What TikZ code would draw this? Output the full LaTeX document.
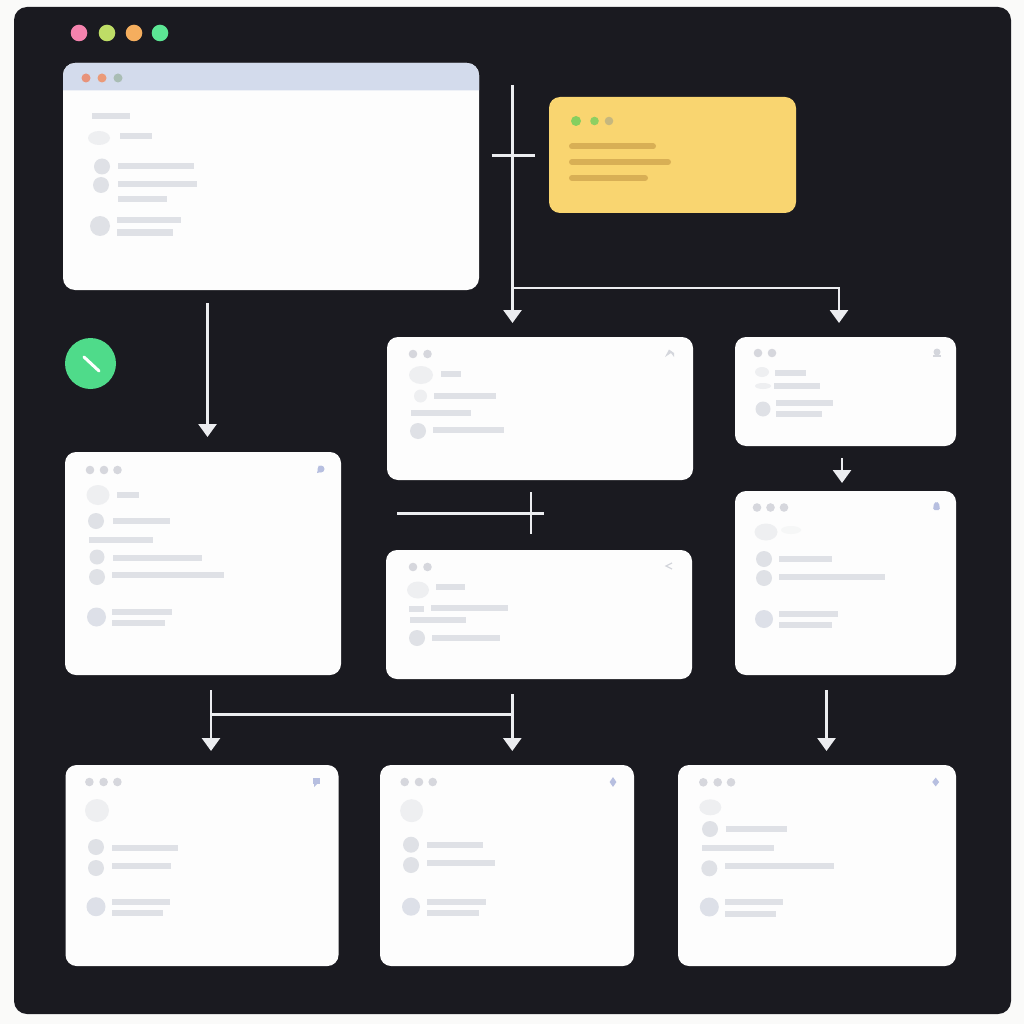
\documentclass[tikz,border=0pt]{standalone}
\usepackage{xcolor}
\usepackage{tikz}
\usetikzlibrary{positioning,calc,arrows.meta,shapes.geometric}
\definecolor{pagebg}{HTML}{FAFAF9}
\definecolor{panelbg}{HTML}{1A1A20}
\definecolor{cardbg}{HTML}{FDFDFD}
\definecolor{barcol}{HTML}{DFE1E6}
\definecolor{dotcol}{HTML}{D6D7DD}
\definecolor{pillcol}{HTML}{EEEFF1}
\definecolor{bigdot}{HTML}{DDE0E8}
\definecolor{iconblue}{HTML}{B7BFE0}
\definecolor{icongrey}{HTML}{D4D6DC}
\definecolor{linecol}{HTML}{ECEDF0}
\definecolor{notecol}{HTML}{F9D570}
\definecolor{notebar}{HTML}{D8AF55}
\tikzset{
  card/.style={draw=none, fill=cardbg, rounded corners=11pt, anchor=north west, inner sep=0pt, outer sep=0pt},
  link/.style={draw=linecol, line width=2.7pt},
  flow/.style={link, -{Triangle[width=18pt,length=13pt]}},
  notestripe/.style={notebar, line width=6pt, line cap=round},
}
\newcommand{\skbar}[3]{\draw[barcol, line width=6pt] (#1,#3) -- (#2,#3);}
\newcommand{\skdot}[3]{\fill[barcol] (#1,#2) circle (#3pt);}
\newcommand{\skpill}[4]{\fill[pillcol] (#1,#2) ellipse (#3pt and #4pt);}
\newcommand{\skmenu}[2]{\foreach \dx in {#1} {\fill[dotcol] (\dx,#2) circle (4.3pt);}}
\begin{document}
\begin{tikzpicture}[x=1pt, y=-1pt]
  \useasboundingbox (0,0) rectangle (1024,1024);
  \fill[pagebg] (0,0) rectangle (1024,1024);
  \node[card, fill=panelbg, rounded corners=13pt, minimum width=997pt, minimum height=1007pt] (panel) at (14,7) {};

  \fill[color={rgb,255:red,245;green,131;blue,174}] (79,33) circle (8.3pt);
  \fill[color={rgb,255:red,190;green,221;blue,102}] (107,33) circle (8.3pt);
  \fill[color={rgb,255:red,245;green,174;blue,94}] (134,33) circle (8.3pt);
  \fill[color={rgb,255:red,92;green,230;blue,148}] (160,33) circle (8.3pt);

  \node[card, rounded corners=12pt, minimum width=416pt, minimum height=227pt] (mainwin) at (63,63) {};
  \node[card, fill=notecol, minimum width=247pt, minimum height=116pt] (note) at (549,97) {};
  \node[card, minimum width=306pt, minimum height=143pt] (editcard) at (387,337) {};
  \node[card, minimum width=306pt, minimum height=129pt] (sharecard) at (386,550) {};
  \node[card, minimum width=221pt, minimum height=109pt] (alertcard) at (735,337) {};
  \node[card, minimum width=221pt, minimum height=184pt] (notifycard) at (735,491) {};
  \node[card, minimum width=276pt, minimum height=223pt] (listcard) at (65,452) {};
  \node[card, minimum width=273pt, minimum height=201pt] (leftcard) at (65.5,765) {};
  \node[card, minimum width=254pt, minimum height=201pt] (midcard) at (380,765) {};
  \node[card, minimum width=278pt, minimum height=201pt] (rightcard) at (678,765) {};

  % main window
  \fill[color={rgb,255:red,211;green,219;blue,236}] (63,90.5) [rounded corners=12pt] -- (63,63) -- (479,63) [sharp corners] -- (479,90.5) -- cycle;
  \fill[color={rgb,255:red,232;green,147;blue,122}] (86,78) circle (4.5pt);
  \fill[color={rgb,255:red,235;green,154;blue,120}] (102,78) circle (4.5pt);
  \fill[color={rgb,255:red,169;green,189;blue,180}] (118,78) circle (4.5pt);
  \skbar{92}{130}{116}
  \skpill{99}{138}{11}{7}
  \skbar{120}{152}{136.5}
  \skdot{102}{166.5}{8}
  \skbar{118}{194}{166.5}
  \skdot{101}{185}{8}
  \skbar{118}{197}{184.5}
  \skbar{118}{167}{199.5}
  \skdot{100}{226}{10}
  \skbar{117}{181}{220.5}
  \skbar{117}{173}{232.5}

  % note
  \fill[color={rgb,255:red,133;green,207;blue,95}] (576,121) circle (5pt);
  \fill[color={rgb,255:red,142;green,207;blue,98}] (594.5,121) circle (4.3pt);
  \fill[color={rgb,255:red,198;green,183;blue,126}] (609,121) circle (4.3pt);
  \draw[notestripe] (572,146.5) -- (653,146.5);
  \draw[notestripe] (572,162) -- (668,162);
  \draw[notestripe] (572,178) -- (645,178);

  % status badge
  \node[circle, fill={rgb,255:red,79;green,219;blue,138}, minimum size=51pt, inner sep=0pt] (badge) at (90.5,363.5) {};
  \draw[white, line width=3pt, line cap=round] (84,357) -- (99,371);

  % edit card
  \skmenu{413,427.5}{354}
  \fill[icongrey] (665,357) -- (669,349.5) -- (674,353) -- (674,357) -- (671,353) -- cycle;
  \skpill{421}{375}{12}{9}
  \skbar{441}{461}{374}
  \fill[color=pillcol] (420.5,396) circle (6.5pt);
  \skbar{434}{496}{395.5}
  \skbar{411}{471}{412.5}
  \skdot{418}{431}{8}
  \skbar{433}{504}{430}

  % share card
  \skmenu{413,427.5}{567}
  \draw[icongrey, line width=1.2pt] (672,563) -- (666,566) -- (672,569);
  \skpill{418}{590}{11}{8.5}
  \skbar{436}{465}{587}
  \skbar{409}{424}{608.5}
  \skbar{431}{508}{608}
  \skbar{410}{466}{619.5}
  \skdot{417}{638}{8}
  \skbar{432}{500}{638}

  % alert card
  \skmenu{758,772}{353}
  \fill[icongrey] (937,352) circle (3.5pt);
  \fill[icongrey] (933,355) rectangle (941,356.5);
  \skpill{762}{372}{7}{5}
  \skbar{775}{806}{372.5}
  \skpill{763}{386}{8}{3}
  \skbar{774}{820}{386}
  \skdot{763}{409}{7.5}
  \skbar{776}{833}{403}
  \skbar{776}{822}{413.5}

  % notify card
  \skmenu{757,770.5,784}{507.5}
  \fill[iconblue, rounded corners=1.5pt] (933,510) -- (934,503) -- (936.5,501.5) -- (939,503) -- (940,510) -- cycle;
  \skpill{766}{532}{11.5}{8.5}
  \fill[color=pagebg!70!pillcol] (791,530) ellipse (10pt and 4pt);
  \skdot{764}{559}{8}
  \skbar{779}{832}{558.5}
  \skdot{764}{578}{8}
  \skbar{779}{885}{576.5}
  \fill[bigdot] (764,619) circle (9pt);
  \skbar{779}{838}{614}
  \skbar{779}{832}{625}

  % list card
  \skmenu{90,104,117.5}{470}
  \fill[iconblue] (321,469) circle (3.5pt);
  \fill[iconblue] (317,473) -- (319,465) -- (321,472) -- cycle;
  \skpill{98}{495}{11.5}{10}
  \skbar{117}{139}{495}
  \skdot{96}{521}{8}
  \skbar{113}{170}{521}
  \skbar{89}{153}{539.5}
  \skdot{97}{557}{7.5}
  \skbar{113}{202}{557.5}
  \skdot{97}{577}{8}
  \skbar{112}{224}{575}
  \fill[bigdot] (96.5,617) circle (9.5pt);
  \skbar{112}{172}{612}
  \skbar{112}{165}{623}

  % left card
  \skmenu{89.4,103.6,117.4}{782}
  \fill[iconblue] (313,778) rectangle (320,784);
  \fill[iconblue] (314,784) -- (317,784) -- (314,787) -- cycle;
  \skpill{97}{810.5}{12}{11.5}
  \skdot{96}{847}{8}
  \skbar{112}{178}{847.7}
  \skdot{96}{868}{8}
  \skbar{112}{171}{866}
  \fill[bigdot] (96,906.7) circle (9.5pt);
  \skbar{112}{170}{901.7}
  \skbar{112}{163}{913}

  % mid card
  \skmenu{404.7,419,432.7}{782}
  \node[diamond, fill=iconblue, minimum width=7pt, minimum height=10pt, inner sep=0pt] (midicon) at (613,782) {};
  \skpill{411.6}{810.7}{11.5}{11.5}
  \skdot{411}{844.7}{8}
  \skbar{427}{483}{845}
  \skdot{411}{865}{8}
  \skbar{427}{495}{863.3}
  \fill[bigdot] (411,906.7) circle (9pt);
  \skbar{427}{486}{901.7}
  \skbar{427}{478.6}{913}

  % right card
  \skmenu{703.3,717.7,731}{782.3}
  \node[diamond, fill=iconblue, minimum width=7pt, minimum height=9pt, inner sep=0pt] (righticon) at (935.7,782) {};
  \skpill{710.3}{807.3}{11}{8}
  \skdot{710}{829}{8}
  \skbar{725.7}{786.7}{829}
  \skbar{702.3}{774}{848}
  \skdot{709.3}{868.3}{8}
  \skbar{725}{834}{866.3}
  \fill[bigdot] (709.3,907) circle (9.5pt);
  \skbar{725.3}{783.3}{902}
  \skbar{725.3}{775.7}{913.7}

  % connectors
  \coordinate (trunktop) at (512.5,85);
  \coordinate (trunkend) at (512.5,323);
  \coordinate (tickl) at (491.7,155.3);
  \coordinate (tickr) at (534.5,155.3);
  \coordinate (branchl) at (512.5,288);
  \coordinate (branchr) at (839,288);
  \coordinate (branchend) at (839,323);
  \coordinate (mainout) at (207.5,303);
  \coordinate (listin) at (207.5,437);
  \coordinate (crossl) at (397,513.5);
  \coordinate (crossr) at (544,513.5);
  \coordinate (crosst) at (531,492);
  \coordinate (crossb) at (531,534);
  \coordinate (alertout) at (842,458);
  \coordinate (notifyin) at (842,483);
  \coordinate (listout) at (211,690);
  \coordinate (leftin) at (211,751);
  \coordinate (splitl) at (211,714.7);
  \coordinate (splitr) at (512.3,714.7);
  \coordinate (midtop) at (512.3,694);
  \coordinate (midin) at (512.3,751);
  \coordinate (notifyout) at (826.5,690);
  \coordinate (rightin) at (826.5,751);

  \draw[flow] (trunktop) -- (trunkend);
  \draw[link] (tickl) -- (tickr);
  \draw[flow] (branchl) -- (branchr) -- (branchend);
  \draw[flow] (mainout) -- (listin);
  \draw[link] (crossl) -- (crossr);
  \draw[link] (crosst) -- (crossb);
  \draw[flow] (alertout) -- (notifyin);
  \draw[flow] (listout) -- (leftin);
  \draw[link] (splitl) -- (splitr);
  \draw[flow] (midtop) -- (midin);
  \draw[flow] (notifyout) -- (rightin);
\end{tikzpicture}
\end{document}
